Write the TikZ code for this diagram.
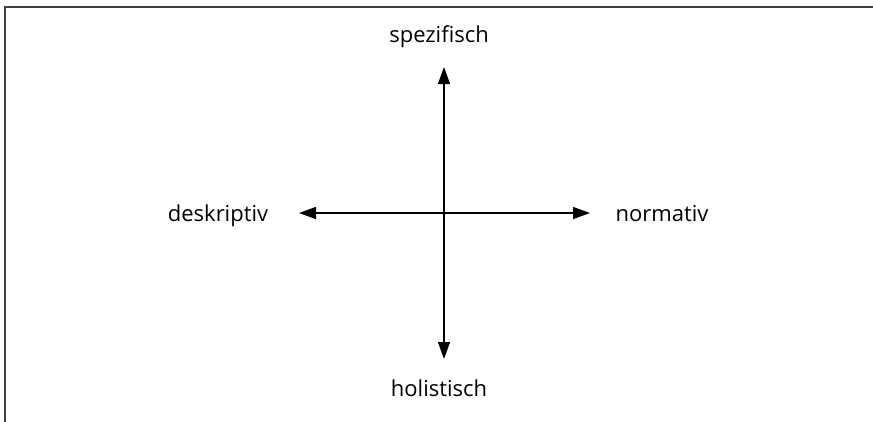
\documentclass[tikz,border=0pt]{standalone}
\usepackage{fontspec}
\setmainfont{Open Sans}
\usetikzlibrary{arrows.meta}
\begin{document}
\begin{tikzpicture}[x=1pt,y=-1pt,
  lbl/.style={font=\fontsize{22}{26}\selectfont, inner sep=0pt, anchor=base},
  axis/.style={line width=1.5pt, {Triangle[length=17pt,width=12pt]}-{Triangle[length=17pt,width=12pt]}},
  frame/.style={line width=2pt, draw=black!75}]
\useasboundingbox (0,0) rectangle (873,421);
\draw[frame] (4.5,440) -- (4.5,6.5) -- (890,6.5);
\coordinate (top) at (444,67);
\coordinate (bot) at (444,359);
\coordinate (lft) at (299,213);
\coordinate (rgt) at (590,213);
\node[lbl] (spez) at (439,42) {spezifisch};
\node[lbl] (hol) at (439,396) {holistisch};
\node[lbl] (desk) at (218,221) {deskriptiv};
\node[lbl] (norm) at (662,221) {normativ};
\draw[axis] (top) -- (bot);
\draw[axis] (lft) -- (rgt);
\end{tikzpicture}
\end{document}
